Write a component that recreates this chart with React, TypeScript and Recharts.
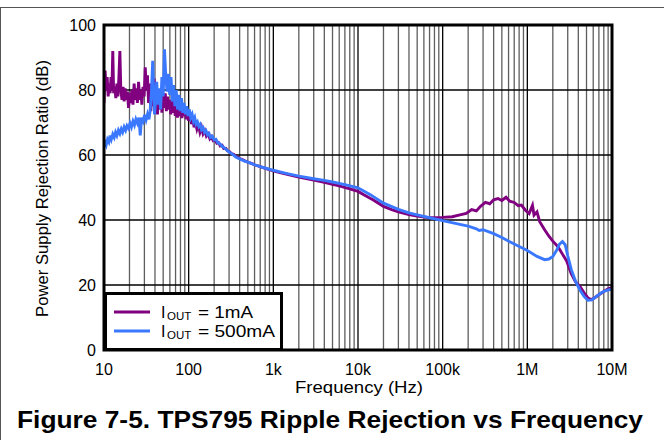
import React from "react";
import {
  LineChart,
  Line,
  XAxis,
  YAxis,
  ReferenceLine,
  ReferenceArea,
  Legend,
  Label,
} from "recharts";

const FONT = '"Liberation Sans", Arial, Helvetica, sans-serif';

const decadeTicks = [10, 100, 1000, 10000, 100000, 1000000, 10000000];
const decadeLabels = ["10", "100", "1k", "10k", "100k", "1M", "10M"];
const minorSteps = [2, 3, 4, 5, 6, 7, 8, 9];
const dbTicks = [0, 20, 40, 60, 80, 100];
const dbGrid = [20, 40, 60, 80];

// IOUT = 1mA
const freq1mA = [
  10, 10.3, 10.6, 10.9, 11.2, 11.5, 11.8, 12.1, 12.4, 12.7,
  13.0, 13.4, 13.8, 14.2, 14.6, 15.0, 15.4, 15.8, 16.3, 16.8,
  17.3, 17.8, 18.3, 18.9, 19.5, 20.1, 20.7, 21.3, 22.0, 22.7,
  23.4, 24.1, 24.8, 25.6, 26.4, 27.2, 28.0, 28.9, 29.8, 30.7,
  31.6, 32.6, 33.6, 34.6, 35.7, 36.8, 37.9, 39.1, 40.3, 41.5,
  42.8, 44.1, 45.5, 46.9, 48.3, 49.8, 51.3, 52.9, 54.5, 56.2,
  57.9, 59.7, 61.5, 63.4, 65.3, 67.3, 69.4, 71.5, 73.7, 76,
  78.3, 80.7, 83.2, 85.8, 88.4, 91, 94, 97, 100, 104,
  108, 112, 116, 120, 125, 130, 136, 142, 148, 155,
  162, 170, 178, 186, 195, 205, 215, 225, 236, 248,
  260, 275, 290, 305, 320, 340, 360, 380, 400, 430,
  460, 500, 550, 600, 700, 800, 900, 1000, 1200, 1500,
  2000, 3000, 4000, 5000, 6000, 8000, 1e4, 1.2e4, 1.5e4, 2e4,
  2.5e4, 3e4, 4e4, 5e4, 7e4, 1e5, 1.3e5, 1.6e5, 1.9e5, 2.2e5,
  2.5e5, 2.8e5, 3.2e5, 3.6e5, 4e5, 4.5e5, 5e5, 5.6e5, 6.2e5, 7e5,
  7.8e5, 8.5e5, 9.5e5, 1.05e6, 1.15e6, 1.2e6, 1.3e6, 1.4e6, 1.6e6, 1.8e6,
  2e6, 2.3e6, 2.6e6, 2.9e6, 3.3e6, 3.7e6, 4.2e6, 4.7e6, 5.2e6, 5.7e6,
  6.2e6, 7e6, 8e6, 9e6, 1e7,
];
const psrr1mA = [
  76, 86, 80, 84, 78, 82, 79, 84, 80, 92,
  79, 81, 77.5, 82, 78, 84, 92, 80, 77, 81,
  76.5, 80.5, 77, 79.5, 74.5, 79, 76, 80, 75.5, 82,
  77, 80.5, 76, 82.5, 77, 80, 75.5, 81, 78, 87,
  80, 84.5, 76, 82, 73.5, 80, 75, 83.5, 76, 81,
  72.5, 79, 74, 80, 73, 78.5, 74.5, 79, 73.5, 78,
  74, 77, 72.5, 76.5, 73, 77, 72, 75.5, 71.5, 75,
  72, 74, 71.4, 74, 72, 73.5, 71, 73, 70.5, 72,
  69.5, 71, 68.5, 70, 68, 69.5, 67, 68.5, 66.5, 67.5,
  65.8, 66.5, 65, 65.6, 64.4, 64.6, 63.6, 63.8, 62.8, 63,
  62, 62, 61.2, 61, 60.4, 60.2, 59.6, 59.4, 58.9, 58.6,
  58.2, 57.8, 57.4, 57, 56.4, 55.9, 55.5, 55.1, 54.6, 54,
  53.2, 52.3, 51.6, 51, 50.5, 49.6, 48.8, 47.6, 46.2, 44.2,
  43.2, 42.5, 41.7, 41.2, 40.7, 40.8, 41, 41.6, 42, 43.2,
  42.8, 44.2, 45.4, 45, 46.2, 46.6, 46, 47, 45.8, 45.4,
  44.4, 44.6, 43, 42, 44.5, 41.5, 42.5, 39.5, 37, 35,
  33.5, 31.8, 29.5, 27.5, 23.5, 21, 19.5, 17.5, 16, 15.5,
  16, 17, 18, 18.8, 19.2,
];

// IOUT = 500mA
const freq500mA = [
  10, 10.3, 10.6, 11, 11.4, 11.8, 12.2, 12.7, 13.2, 13.7,
  14.2, 14.8, 15.4, 16, 16.6, 17.3, 18, 18.7, 19.5, 20.3,
  21.1, 22, 22.9, 23.8, 24.8, 25.8, 26.8, 27.8, 29, 30.2,
  31.4, 32.7, 34, 35, 36.3, 37.6, 38.5, 39.5, 40.4, 41.9,
  43.4, 45, 46.6, 48.3, 50, 51.8, 53.7, 55.6, 57.6, 59.7,
  61.9, 64.1, 66.4, 68.8, 71.3, 73.9, 76.6, 79.4, 82.3, 85.3,
  88.4, 91.6, 95, 98.4, 102, 106, 110, 114, 118, 122,
  127, 132, 137, 142, 148, 154, 160, 167, 174, 181,
  190, 200, 210, 220, 235, 250, 265, 285, 305, 330,
  360, 400, 450, 500, 600, 700, 800, 1000, 1200, 1500,
  2000, 3000, 4000, 5000, 7000, 1e4, 1.4e4, 2e4, 3e4, 4e4,
  5e4, 7e4, 1e5, 1.5e5, 2e5, 2.5e5, 2.7e5, 3e5, 4e5, 5e5,
  7e5, 1e6, 1.3e6, 1.6e6, 1.8e6, 2e6, 2.2e6, 2.4e6, 2.6e6, 2.8e6,
  3e6, 3.3e6, 3.7e6, 4.2e6, 4.7e6, 5.2e6, 5.8e6, 6.5e6, 7.5e6, 8.5e6, 1e7,
];
const psrr500mA = [
  62.5, 63.8, 63, 64.8, 64, 66, 64.8, 66.4, 65.4, 67,
  66, 67.6, 66.6, 68, 67, 68.6, 67.6, 69, 68.2, 69.8,
  68.6, 70.4, 69.2, 71, 69.8, 71.5, 66, 71.5, 70.4, 72.4,
  70.8, 72.6, 71, 73.5, 79, 89, 80, 72.5, 76, 82.5,
  75.5, 80.5, 74, 84, 78, 92.5, 84, 79.5, 85, 78.5,
  84, 76.5, 81.5, 75, 80, 74, 78.5, 73.5, 77.5, 73,
  76, 72.5, 75, 72, 74, 71.5, 72.5, 70.5, 71.5, 69.5,
  70.2, 68.8, 69.4, 67.8, 68.4, 67, 67.5, 66.2, 66.6, 65.4,
  65.8, 64.6, 64.8, 63.8, 63.4, 62.6, 62.2, 61.4, 60.8, 60.2,
  59.4, 58.8, 58.2, 57.8, 57, 56.4, 56, 55.3, 54.8, 54.2,
  53.5, 52.7, 52.2, 51.7, 50.9, 49.9, 47.8, 45.2, 43.3, 42.2,
  41.6, 40.7, 39.8, 38.8, 38.1, 37.3, 36.8, 37, 35.8, 34.6,
  32.6, 30.6, 28.8, 27.8, 28, 28.8, 30.5, 32.6, 33.4, 32.4,
  29, 24.8, 21.2, 18.4, 16.4, 15.3, 15.4, 16.4, 17.6, 18.3, 18.8,
];

const series = [
  { key: "1mA", label: "= 1mA", color: "#800080", freq: freq1mA, db: psrr1mA },
  { key: "500mA", label: "= 500mA", color: "#3a78ff", freq: freq500mA, db: psrr500mA },
];

const minorTicks = decadeTicks.slice(0, -1).flatMap((d) => minorSteps.map((m) => d * m));

function LegendBox() {
  return (
    <svg width={179} height={60} style={{ display: "block" }}>
      <rect x={1.5} y={1.5} width={176} height={56} fill="#fff" stroke="#000" strokeWidth={3} />
      {series.map((s, i) => {
        const y = 20 + i * 19;
        return (
          <g key={s.key} fontFamily={FONT} fill="#000">
            <line x1={10} x2={46} y1={y} y2={y} stroke={s.color} strokeWidth={3} />
            <text x={57} y={y + 6} fontSize={16}>I</text>
            <text x={63} y={y + 8} fontSize={11.5}>OUT</text>
            <text x={94} y={y + 6} fontSize={16} textLength={i === 0 ? 55 : 77} lengthAdjust="spacingAndGlyphs">
              {s.label}
            </text>
          </g>
        );
      })}
    </svg>
  );
}

function XTitle(props: any) {
  const vb = props.viewBox || { x: 104, width: 508 };
  return (
    <g fontFamily={FONT} fill="#000">
      <text x={vb.x + vb.width / 2 + 1} y={393} textAnchor="middle" fontSize={16} textLength={128} lengthAdjust="spacingAndGlyphs">
        Frequency (Hz)
      </text>
      <text x={330} y={428} textAnchor="middle" fontSize={24} fontWeight="bold" textLength={626} lengthAdjust="spacingAndGlyphs">
        Figure 7-5. TPS795 Ripple Rejection vs Frequency
      </text>
    </g>
  );
}

function YTitle(props: any) {
  const vb = props.viewBox || { y: 25, height: 325 };
  const cy = vb.y + vb.height / 2 + 1;
  return (
    <text
      transform={`translate(48, ${cy}) rotate(-90)`}
      textAnchor="middle"
      fontSize={16}
      fontFamily={FONT}
      fill="#000"
      textLength={257}
      lengthAdjust="spacingAndGlyphs"
    >
      Power Supply Rejection Ratio (dB)
    </text>
  );
}

export default function App() {
  const lineData = series.map((s) => s.freq.map((f, i) => ({ f, db: s.db[i] })));

  return (
    <div
      style={{
        position: "absolute",
        left: 0,
        top: 0,
        width: 664,
        height: 440,
        background: "#fff",
        fontFamily: FONT,
      }}
    >
      <div
        style={{
          position: "absolute",
          left: 0,
          top: 7,
          width: 664,
          height: 433,
          borderTop: "1px solid #555",
          borderLeft: "1px solid #555",
          boxSizing: "border-box",
        }}
      />
      <LineChart width={664} height={440} margin={{ top: 25, right: 52, left: 0, bottom: 0 }}>
        <XAxis
          dataKey="f"
          type="number"
          scale="log"
          domain={[10, 10000000]}
          allowDataOverflow
          ticks={decadeTicks}
          tickFormatter={(v: number) => decadeLabels[decadeTicks.indexOf(v)] ?? ""}
          tickSize={0}
          tickMargin={14}
          axisLine={false}
          height={90}
          tick={{ fill: "#000", fontSize: 16, fontFamily: FONT }}
          interval={0}
        >
          <Label content={XTitle} />
        </XAxis>
        <YAxis
          type="number"
          domain={[0, 100]}
          ticks={dbTicks}
          tickSize={0}
          tickMargin={8}
          axisLine={false}
          width={104}
          tick={{ fill: "#000", fontSize: 16, fontFamily: FONT }}
          interval={0}
        >
          <Label content={YTitle} />
        </YAxis>

        {minorTicks.map((v) => (
          <ReferenceLine key={"m" + v} x={v} stroke="#5e5e5e" strokeWidth={1.3} zIndex={-60} />
        ))}
        {decadeTicks.map((v) => (
          <ReferenceLine key={"d" + v} x={v} stroke="#000" strokeWidth={1.3} zIndex={-50} />
        ))}
        {dbGrid.map((v) => (
          <ReferenceLine key={"h" + v} y={v} stroke="#000" strokeWidth={1.3} zIndex={-50} />
        ))}

        {series.map((s, i) => (
          <Line
            key={s.key}
            data={lineData[i]}
            dataKey="db"
            name={s.key}
            type="linear"
            stroke={s.color}
            strokeWidth={2.9}
            dot={false}
            isAnimationActive={false}
          />
        ))}

        <ReferenceArea
          x1={10}
          x2={10000000}
          y1={0}
          y2={100}
          fill="none"
          fillOpacity={0}
          stroke="#000"
          strokeWidth={3}
          zIndex={1500}
        />
        <Legend
          layout="horizontal"
          verticalAlign="middle"
          align="center"
          wrapperStyle={{ left: 104, top: 292, width: 179, height: 60 }}
          content={() => <LegendBox />}
        />
      </LineChart>
    </div>
  );
}
